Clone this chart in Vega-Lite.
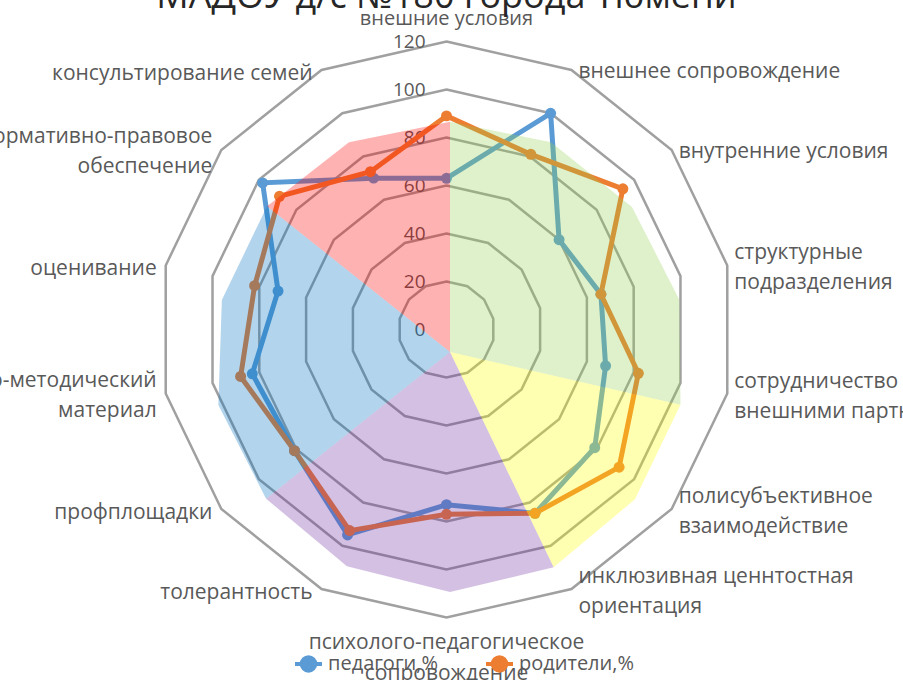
{
  "$schema": "https://vega.github.io/schema/vega-lite/v6.json",
  "width": 903,
  "height": 680,
  "padding": 0,
  "autosize": {"type": "none"},
  "background": "white",
  "config": {"view": {"stroke": null}},
  "datasets": {
    "rings": [
      {"ring": 20, "k": [0,1,2,3,4,5,6,7,8,9,10,11,12,13]},
      {"ring": 40, "k": [0,1,2,3,4,5,6,7,8,9,10,11,12,13]},
      {"ring": 60, "k": [0,1,2,3,4,5,6,7,8,9,10,11,12,13]},
      {"ring": 80, "k": [0,1,2,3,4,5,6,7,8,9,10,11,12,13]},
      {"ring": 100, "k": [0,1,2,3,4,5,6,7,8,9,10,11,12,13]},
      {"ring": 120, "k": [0,1,2,3,4,5,6,7,8,9,10,11,12,13]}
    ],
    "ticks": [{"t": 0}, {"t": 20}, {"t": 40}, {"t": 60}, {"t": 80}, {"t": 100}, {"t": 120}],
    "categories": [
      {"idx": 0, "category": "внешние условия"},
      {"idx": 1, "category": "внешнее сопровождение"},
      {"idx": 2, "category": "внутренние условия"},
      {"idx": 3, "category": "структурные\nподразделения"},
      {"idx": 4, "category": "сотрудничество с\nвнешними партнерами"},
      {"idx": 5, "category": "полисубъективное\nвзаимодействие"},
      {"idx": 6, "category": "инклюзивная ценнтостная\nориентация"},
      {"idx": 7, "category": "психолого-педагогическое\nсопровождение"},
      {"idx": 8, "category": "толерантность"},
      {"idx": 9, "category": "профплощадки"},
      {"idx": 10, "category": "учебно-методический\nматериал"},
      {"idx": 11, "category": "оценивание"},
      {"idx": 12, "category": "нормативно-правовое\nобеспечение"},
      {"idx": 13, "category": "консультирование семей"}
    ],
    "scores": [
      {"idx": 0, "series": "педагоги,%", "value": 63},
      {"idx": 1, "series": "педагоги,%", "value": 100},
      {"idx": 2, "series": "педагоги,%", "value": 60},
      {"idx": 3, "series": "педагоги,%", "value": 66},
      {"idx": 4, "series": "педагоги,%", "value": 68},
      {"idx": 5, "series": "педагоги,%", "value": 79},
      {"idx": 6, "series": "педагоги,%", "value": 85},
      {"idx": 7, "series": "педагоги,%", "value": 73},
      {"idx": 8, "series": "педагоги,%", "value": 95},
      {"idx": 9, "series": "педагоги,%", "value": 81},
      {"idx": 10, "series": "педагоги,%", "value": 83},
      {"idx": 11, "series": "педагоги,%", "value": 72},
      {"idx": 12, "series": "педагоги,%", "value": 98},
      {"idx": 13, "series": "педагоги,%", "value": 70},
      {"idx": 0, "series": "родители,%", "value": 89},
      {"idx": 1, "series": "родители,%", "value": 81},
      {"idx": 2, "series": "родители,%", "value": 94},
      {"idx": 3, "series": "родители,%", "value": 66},
      {"idx": 4, "series": "родители,%", "value": 82},
      {"idx": 5, "series": "родители,%", "value": 92},
      {"idx": 6, "series": "родители,%", "value": 85},
      {"idx": 7, "series": "родители,%", "value": 77},
      {"idx": 8, "series": "родители,%", "value": 93},
      {"idx": 9, "series": "родители,%", "value": 81},
      {"idx": 10, "series": "родители,%", "value": 88},
      {"idx": 11, "series": "родители,%", "value": 82},
      {"idx": 12, "series": "родители,%", "value": 89},
      {"idx": 13, "series": "родители,%", "value": 73}
    ],
    "overlay": [
      {"sector": "A", "ord": 0, "idx": 0, "value": 0},
      {"sector": "A", "ord": 1, "idx": 12, "value": 97.5},
      {"sector": "A", "ord": 2, "idx": 13, "value": 97},
      {"sector": "A", "ord": 3, "idx": 14, "value": 96},
      {"sector": "B", "ord": 0, "idx": 0, "value": 0},
      {"sector": "B", "ord": 1, "idx": 0, "value": 96},
      {"sector": "B", "ord": 2, "idx": 1, "value": 97},
      {"sector": "B", "ord": 3, "idx": 2, "value": 97},
      {"sector": "B", "ord": 4, "idx": 3, "value": 98},
      {"sector": "B", "ord": 5, "idx": 4, "value": 98.5},
      {"sector": "C", "ord": 0, "idx": 0, "value": 0},
      {"sector": "C", "ord": 1, "idx": 4, "value": 98.5},
      {"sector": "C", "ord": 2, "idx": 5, "value": 98.5},
      {"sector": "C", "ord": 3, "idx": 6, "value": 99.5},
      {"sector": "D", "ord": 0, "idx": 0, "value": 0},
      {"sector": "D", "ord": 1, "idx": 6, "value": 99.5},
      {"sector": "D", "ord": 2, "idx": 7, "value": 100},
      {"sector": "D", "ord": 3, "idx": 8, "value": 99},
      {"sector": "D", "ord": 4, "idx": 9, "value": 98},
      {"sector": "E", "ord": 0, "idx": 0, "value": 0},
      {"sector": "E", "ord": 1, "idx": 9, "value": 98},
      {"sector": "E", "ord": 2, "idx": 10, "value": 99},
      {"sector": "E", "ord": 3, "idx": 11, "value": 97.5},
      {"sector": "E", "ord": 4, "idx": 12, "value": 97.5}
    ],
    "heading": [{"title": "МАДОУ д/с №180 города Тюмени"}]
  },
  "encoding": {
    "x": {"field": "px", "type": "quantitative", "scale": {"domain": [-186.04, 190.21], "nice": false, "zero": false}, "axis": null},
    "y": {"field": "py", "type": "quantitative", "scale": {"domain": [-146.04, 137.29], "nice": false, "zero": false}, "axis": null}
  },
  "layer": [
    {
      "data": {"name": "rings"},
      "transform": [
        {"flatten": ["k"]},
        {"calculate": "datum.ring * sin(datum.k * PI / 7)", "as": "px"},
        {"calculate": "datum.ring * cos(datum.k * PI / 7)", "as": "py"}
      ],
      "mark": {"type": "line", "interpolate": "linear-closed", "stroke": "#A0A0A0", "strokeWidth": 2.5},
      "encoding": {
        "detail": {"field": "ring", "type": "nominal"},
        "order": {"field": "k", "type": "quantitative"}
      }
    },
    {
      "data": {"name": "ticks"},
      "transform": [
        {"calculate": "datum.t * 0", "as": "px"},
        {"calculate": "datum.t", "as": "py"}
      ],
      "mark": {"type": "text", "align": "right", "baseline": "middle", "dx": -21, "dy": 1, "font": "Open Sans", "fontSize": 19, "color": "#595959"},
      "encoding": {"text": {"field": "t", "type": "quantitative"}}
    },
    {
      "data": {"name": "scores"},
      "transform": [
        {"calculate": "datum.value * sin(datum.idx * PI / 7)", "as": "px"},
        {"calculate": "datum.value * cos(datum.idx * PI / 7)", "as": "py"}
      ],
      "mark": {"type": "line", "interpolate": "linear-closed", "strokeWidth": 5},
      "encoding": {
        "color": {
          "field": "series", "type": "nominal",
          "scale": {"domain": ["педагоги,%", "родители,%"], "range": ["#5B9BD5", "#ED7D31"]},
          "legend": {
            "orient": "none", "legendX": 293, "legendY": 648, "direction": "horizontal", "title": null,
            "symbolType": "M-1,0L1,0M0.5,0A0.5,0.5,0,1,1,-0.5,0A0.5,0.5,0,1,1,0.5,0Z",
            "symbolSize": 729, "symbolStrokeWidth": 4,
            "labelFont": "Open Sans", "labelFontSize": 20, "labelColor": "#595959", "labelOffset": 4, "columnPadding": 40,
            "encode": {"symbols": {"update": {"fill": {"scale": "color", "field": "value"}, "stroke": {"scale": "color", "field": "value"}, "opacity": {"value": 1}}}}
          }
        },
        "order": {"field": "idx", "type": "quantitative"}
      }
    },
    {
      "data": {"name": "scores"},
      "transform": [
        {"calculate": "datum.value * sin(datum.idx * PI / 7)", "as": "px"},
        {"calculate": "datum.value * cos(datum.idx * PI / 7)", "as": "py"}
      ],
      "mark": {"type": "point", "filled": true, "size": 120, "opacity": 1},
      "encoding": {
        "color": {"field": "series", "type": "nominal", "scale": {"domain": ["педагоги,%", "родители,%"], "range": ["#5B9BD5", "#ED7D31"]}, "legend": null}
      }
    },
    {
      "data": {"name": "overlay"},
      "transform": [
        {"calculate": "1.46 + datum.value * sin(datum.idx * PI / 7)", "as": "px"},
        {"calculate": "-9.4 + datum.value * cos(datum.idx * PI / 7)", "as": "py"}
      ],
      "mark": {"type": "line", "interpolate": "linear-closed", "strokeWidth": 0, "fillOpacity": 0.3},
      "encoding": {
        "fill": {"field": "sector", "type": "nominal", "scale": {"domain": ["A", "B", "C", "D", "E"], "range": ["#FF0000", "#92D050", "#FFFF00", "#7030A0", "#0070C0"]}, "legend": null},
        "detail": {"field": "sector", "type": "nominal"},
        "order": {"field": "ord", "type": "quantitative"}
      }
    },
    {
      "data": {"name": "categories"},
      "transform": [
        {"filter": "datum.idx >= 1 && datum.idx <= 6 && indexof(datum.category, '\\n') < 0"},
        {"calculate": "120 * sin(datum.idx * PI / 7)", "as": "px"},
        {"calculate": "120 * cos(datum.idx * PI / 7)", "as": "py"}
      ],
      "mark": {"type": "text", "align": "left", "baseline": "middle", "dx": 7, "dy": 2, "font": "Open Sans", "fontSize": 21, "color": "#595959", "clip": true},
      "encoding": {"text": {"field": "category", "type": "nominal"}}
    },
    {
      "data": {"name": "categories"},
      "transform": [
        {"filter": "datum.idx >= 1 && datum.idx <= 6 && indexof(datum.category, '\\n') >= 0"},
        {"calculate": "120 * sin(datum.idx * PI / 7)", "as": "px"},
        {"calculate": "120 * cos(datum.idx * PI / 7)", "as": "py"}
      ],
      "mark": {"type": "text", "align": "left", "baseline": "middle", "dx": 7, "dy": -12, "lineBreak": "\n", "lineHeight": 30, "font": "Open Sans", "fontSize": 21, "color": "#595959", "clip": true},
      "encoding": {"text": {"field": "category", "type": "nominal"}}
    },
    {
      "data": {"name": "categories"},
      "transform": [
        {"filter": "datum.idx >= 8 && indexof(datum.category, '\\n') < 0"},
        {"calculate": "120 * sin(datum.idx * PI / 7)", "as": "px"},
        {"calculate": "120 * cos(datum.idx * PI / 7)", "as": "py"}
      ],
      "mark": {"type": "text", "align": "right", "baseline": "middle", "dx": -9, "dy": 4, "font": "Open Sans", "fontSize": 21, "color": "#595959", "clip": true},
      "encoding": {"text": {"field": "category", "type": "nominal"}}
    },
    {
      "data": {"name": "categories"},
      "transform": [
        {"filter": "datum.idx >= 8 && indexof(datum.category, '\\n') >= 0"},
        {"calculate": "120 * sin(datum.idx * PI / 7)", "as": "px"},
        {"calculate": "120 * cos(datum.idx * PI / 7)", "as": "py"}
      ],
      "mark": {"type": "text", "align": "right", "baseline": "middle", "dx": -9, "dy": -13, "lineBreak": "\n", "lineHeight": 30, "font": "Open Sans", "fontSize": 21, "color": "#595959", "clip": true},
      "encoding": {"text": {"field": "category", "type": "nominal"}}
    },
    {
      "data": {"name": "categories"},
      "transform": [
        {"filter": "datum.idx == 0"},
        {"calculate": "120 * sin(datum.idx * PI / 7)", "as": "px"},
        {"calculate": "120 * cos(datum.idx * PI / 7)", "as": "py"}
      ],
      "mark": {"type": "text", "align": "center", "baseline": "middle", "dy": -22, "font": "Open Sans", "fontSize": 20, "color": "#595959", "clip": true},
      "encoding": {"text": {"field": "category", "type": "nominal"}}
    },
    {
      "data": {"name": "categories"},
      "transform": [
        {"filter": "datum.idx == 7"},
        {"calculate": "120 * sin(datum.idx * PI / 7)", "as": "px"},
        {"calculate": "120 * cos(datum.idx * PI / 7)", "as": "py"}
      ],
      "mark": {"type": "text", "align": "center", "baseline": "middle", "dy": 25, "lineBreak": "\n", "lineHeight": 31, "font": "Open Sans", "fontSize": 21, "color": "#595959", "clip": true},
      "encoding": {"text": {"field": "category", "type": "nominal"}}
    },
    {
      "data": {"name": "heading"},
      "transform": [
        {"calculate": "0", "as": "px"},
        {"calculate": "125", "as": "py"}
      ],
      "mark": {"type": "text", "align": "center", "baseline": "alphabetic", "dy": -21, "font": "Open Sans", "fontSize": 36, "color": "#262626"},
      "encoding": {
        "text": {"field": "title", "type": "nominal"}
      }
    }
  ]
}
